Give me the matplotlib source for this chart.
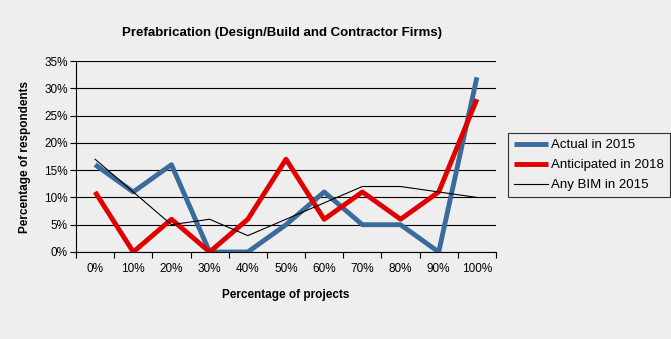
import matplotlib
matplotlib.use("Agg")
import matplotlib.pyplot as plt
import numpy as np

categories = ["0%", "10%", "20%", "30%", "40%", "50%", "60%", "70%", "80%", "90%", "100%"]
actual_2015 = [16, 11, 16, 0, 0, 5, 11, 5, 5, 0, 32]
anticipated_2018 = [11, 0, 6, 0, 6, 17, 6, 11, 6, 11, 28]
any_bim_2015 = [17, 11, 5, 6, 3, 6, 9, 12, 12, 11, 10]
y_ticks = [0, 5, 10, 15, 20, 25, 30, 35]

bg = "#EEEEEE"
plt.rcParams['font.family'] = ['Liberation Sans', 'DejaVu Sans']

fig = plt.figure(figsize=(6.71, 3.39), dpi=100, facecolor=bg)
W, H = 671, 339
ax = fig.add_axes([76 / W, 1 - 252 / H, (496 - 76) / W, (252 - 61) / H], facecolor=bg)

x = np.arange(len(categories))
ax.plot(x, actual_2015, color="#3A6B9C", lw=3.5, label="Actual in 2015", solid_capstyle="butt")
ax.plot(x, anticipated_2018, color="#E00000", lw=3.5, label="Anticipated in 2018", solid_capstyle="butt")
ax.plot(x, any_bim_2015, color="black", lw=0.8, label="Any BIM in 2015")

ax.set_xlim(-0.5, len(categories) - 0.5)
ax.set_ylim(0, 35)
ax.set_yticks(y_ticks)
ax.set_yticklabels([f"{v}%" for v in y_ticks], fontsize=8.5)
ax.set_xticks(x)
ax.set_xticklabels(categories, fontsize=8.5)
ax.set_xticks(np.arange(len(categories) + 1) - 0.5, minor=True)
ax.tick_params(axis='x', which='major', length=0, pad=8)
ax.tick_params(axis='x', which='minor', length=4, direction='out', width=0.8)
ax.tick_params(axis='y', length=4, direction='out', width=0.8, pad=2)
ax.yaxis.grid(True, color="black", lw=0.8)
ax.set_axisbelow(True)
for s in ["top", "right"]:
    ax.spines[s].set_visible(False)
for s in ["left", "bottom"]:
    ax.spines[s].set_linewidth(0.8)

fig.text(282 / W, 1 - 33 / H, "Prefabrication (Design/Build and Contractor Firms)",
         ha="center", va="center", fontsize=9.5, fontweight="bold",
         family=['Liberation Sans Narrow', 'Liberation Sans', 'DejaVu Sans'])
fig.text(286 / W, 1 - 295 / H, "Percentage of projects", ha="center", va="center",
         fontsize=8.5, fontweight="bold")
fig.text(25 / W, 1 - 157 / H, "Percentage of respondents", ha="center", va="center",
         rotation=90, fontsize=8.5, fontweight="bold")

leg = fig.legend(loc="upper left", bbox_to_anchor=(508 / W, 1 - 133 / H), fontsize=9.5,
                 frameon=True, fancybox=False, edgecolor="black", facecolor=bg,
                 handlelength=2.6, borderpad=0.45, labelspacing=0.6, handletextpad=0.2,
                 borderaxespad=0)
leg.get_frame().set_linewidth(0.8)

fig.savefig("out.png", dpi=100, facecolor=bg)
